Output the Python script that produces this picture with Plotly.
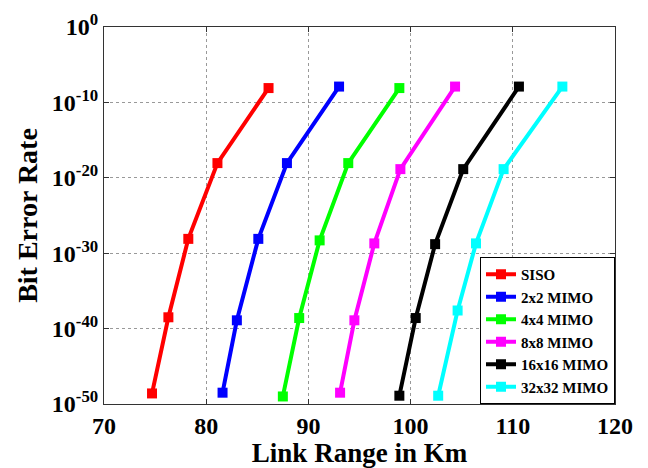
import plotly.graph_objects as go

series_names = ["SISO", "2x2 MIMO", "4x4 MIMO", "8x8 MIMO", "16x16 MIMO", "32x32 MIMO"]
colors = ["#ff0000", "#0000ff", "#00ff00", "#ff00ff", "#000000", "#00ffff"]

link_range = {
    "SISO":       [74.7, 76.3, 78.25, 81.1, 86.1],
    "2x2 MIMO":   [81.6, 83.0, 85.1, 87.9, 93.0],
    "4x4 MIMO":   [87.5, 89.1, 91.1, 93.9, 98.9],
    "8x8 MIMO":   [93.1, 94.5, 96.45, 99.0, 104.35],
    "16x16 MIMO": [98.9, 100.5, 102.4, 105.15, 110.6],
    "32x32 MIMO": [102.7, 104.6, 106.4, 109.1, 114.85],
}
ber_exponent = {
    "SISO":       [-48.6, -38.5, -28.1, -18.05, -8.1],
    "2x2 MIMO":   [-48.5, -38.9, -28.1, -18.05, -7.9],
    "4x4 MIMO":   [-49.0, -38.6, -28.3, -18.05, -8.1],
    "8x8 MIMO":   [-48.5, -38.9, -28.7, -18.85, -7.9],
    "16x16 MIMO": [-48.9, -38.6, -28.8, -18.85, -7.9],
    "32x32 MIMO": [-48.9, -37.6, -28.7, -18.85, -7.9],
}

y_tick_vals = [1e0, 1e-10, 1e-20, 1e-30, 1e-40, 1e-50]
y_tick_text = ["10<sup>0</sup>", "10<sup>-10</sup>", "10<sup>-20</sup>", "10<sup>-30</sup>", "10<sup>-40</sup>", "10<sup>-50</sup>"]
x_tick_vals = [70, 80, 90, 100, 110, 120]

fig = go.Figure()
for name, c in zip(series_names, colors):
    fig.add_trace(go.Scatter(
        x=link_range[name],
        y=[10 ** e for e in ber_exponent[name]],
        mode="lines+markers",
        name=name,
        line=dict(color=c, width=4),
        marker=dict(color=c, size=10, symbol="square"),
    ))

font_family = "Liberation Serif, Times New Roman, serif"
# the page body has an 8px margin, so the figure is sized/placed to compensate
fig.update_layout(
    width=640, height=460,
    margin=dict(l=96, r=33, t=19, b=64, autoexpand=False),
    paper_bgcolor="white", plot_bgcolor="white",
    font=dict(family=font_family, color="black"),
    showlegend=True,
    legend=dict(
        x=1, y=0, xanchor="right", yanchor="bottom",
        bordercolor="black", borderwidth=1, bgcolor="white",
        font=dict(family=font_family, size=15, color="black", weight="bold"),
        tracegroupgap=0, itemwidth=30,
    ),
)
fig.update_xaxes(
    range=[70, 120], tickvals=x_tick_vals, automargin=False,
    showline=True, linecolor="#333333", linewidth=1, mirror="ticks",
    ticks="inside", ticklen=5, tickcolor="#333333",
    showgrid=True, gridcolor="#999999", griddash="dot", gridwidth=1,
    zeroline=False,
    tickfont=dict(family=font_family, size=24, weight="bold"),
    title=dict(text="<b>Link Range in Km</b>", font=dict(family=font_family, size=27), standoff=2),
)
fig.update_yaxes(
    type="log", range=[-50, 0], tickvals=y_tick_vals, ticktext=y_tick_text, automargin=False,
    showline=True, linecolor="#333333", linewidth=1, mirror="ticks",
    ticks="inside", ticklen=5, tickcolor="#333333",
    showgrid=True, gridcolor="#999999", griddash="dot", gridwidth=1,
    zeroline=False,
    tickfont=dict(family=font_family, size=24, weight="bold"),
    title=dict(text="<b>Bit Error Rate</b>", font=dict(family=font_family, size=28), standoff=6),
)

fig.write_html("out.html")
